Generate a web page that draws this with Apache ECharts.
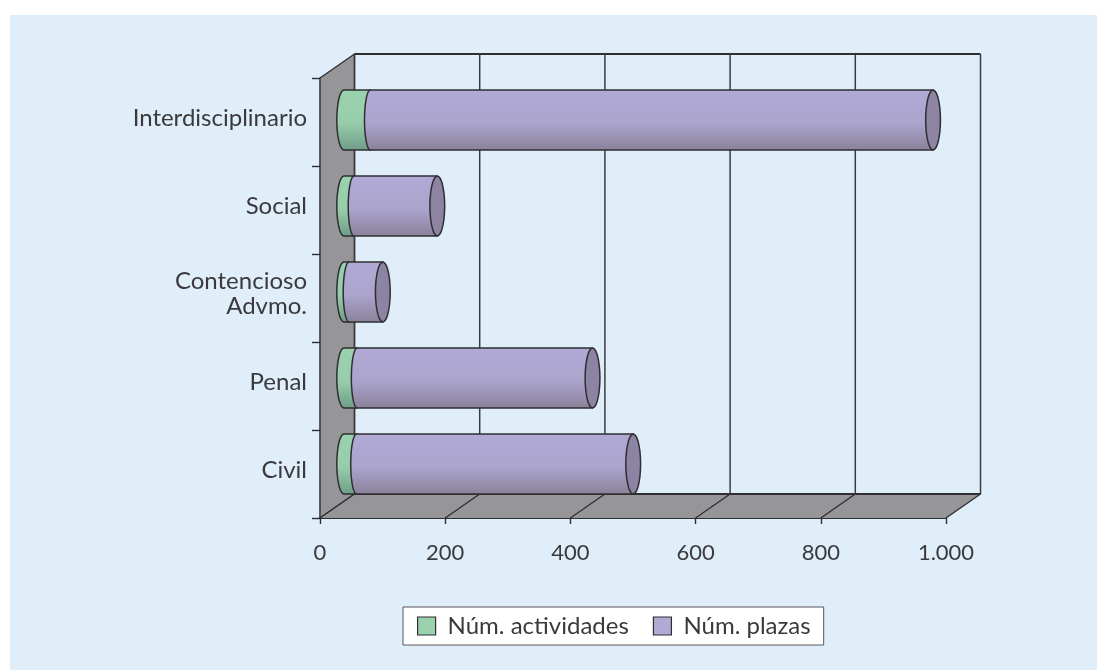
<!DOCTYPE html>
<html><head><meta charset="utf-8">
<style>html,body{margin:0;padding:0;background:#fff}#c{width:1097px;height:670px}</style>
<script src="https://cdn.jsdelivr.net/npm/echarts@6/dist/echarts.min.js"></script>
</head><body><div id="c"></div>
<script>
const categories = ['Civil','Penal','Contencioso\nAdvmo.','Social','Interdisciplinario'];
const actividades = [20, 21, 8, 16, 42];
const plazas = [442, 376, 54, 133, 899];
const valueTicks = [0, 200, 400, 600, 800, 1000];
const seriesNames = ['Núm. actividades', 'Núm. plazas'];

const INK = '#2f2f32', WALL = '#969699', TXT = '#3a3a3c', FONT = 'Lato';
const DX = 34.5, DY = 24, RX_END = 7.4;

function ellipseArc(cx, cy, rx, ry, a0, a1) {
  const pts = [], n = 28;
  for (let i = 0; i <= n; i++) {
    const a = a0 + (a1 - a0) * i / n;
    pts.push([cx + rx * Math.cos(a), cy + ry * Math.sin(a)]);
  }
  return pts;
}
const stroke = { stroke: INK, lineWidth: 1.5 };

function renderWalls(params, api) {
  const r = params.coordSys;
  const L = r.x, R = r.x + r.width, T = r.y, B = r.y + r.height;
  return { type: 'group', children: [
    { type: 'polygon', shape: { points: [[L,T],[L+DX,T-DY],[L+DX,B-DY],[L,B]] }, style: { fill: WALL, stroke: INK, lineWidth: 1.4 } },
    { type: 'polygon', shape: { points: [[L,B],[R,B],[R+DX,B-DY],[L+DX,B-DY]] }, style: { fill: WALL } },
    { type: 'line', shape: { x1: L+DX, y1: T-DY, x2: R+DX, y2: T-DY }, style: { stroke: INK, lineWidth: 2 } },
    { type: 'line', shape: { x1: L+DX, y1: B-DY, x2: R+DX, y2: B-DY }, style: { stroke: INK, lineWidth: 2 } }
  ]};
}
function renderGridLine(params, api) {
  const r = params.coordSys;
  const x = api.coord([api.value(0), 0])[0];
  const T = r.y, B = r.y + r.height;
  return { type: 'group', children: [
    { type: 'line', shape: { x1: x+DX, y1: T-DY, x2: x+DX, y2: B-DY }, style: { stroke: '#3c3c40', lineWidth: 1.5 } },
    { type: 'line', shape: { x1: x, y1: B, x2: x+DX, y2: B-DY }, style: { stroke: INK, lineWidth: 1.4 } }
  ]};
}
function cylinder(withCap, stops, rxStart) {
  return function (params, api) {
    const p0 = api.coord([api.value(0), api.value(2)]);
    const p1 = api.coord([api.value(1), api.value(2)]);
    const ry = 30, cy = p0[1];
    const left = ellipseArc(p0[0], cy, rxStart, ry, 0.5 * Math.PI, 1.5 * Math.PI);
    const pts = left.concat([[p1[0], cy - ry], [p1[0], cy + ry]]);
    const fill = new echarts.graphic.LinearGradient(0, 0, 0, 1,
      stops.map(s => ({ offset: s[0], color: s[1] })));
    const children = [{ type: 'polygon', shape: { points: pts }, style: Object.assign({ fill }, stroke) }];
    if (withCap) {
      children.push({ type: 'polygon',
        shape: { points: ellipseArc(p1[0], cy, RX_END, ry, 0, 2 * Math.PI) },
        style: Object.assign({ fill: '#8d83a3' }, stroke) });
    }
    return { type: 'group', children };
  };
}
const green = [[0,'#9bd2ae'],[0.55,'#97cdaa'],[1,'#6f9c88']];
const purple = [[0,'#b1aad5'],[0.55,'#aba4cd'],[1,'#8a8199']];

const chart = echarts.init(document.getElementById('c'), null, { renderer: 'canvas' });
chart.setOption({
  backgroundColor: '#ffffff',
  animation: false,
  textStyle: { fontFamily: FONT },
  graphic: [{ type: 'rect', z: -10, silent: true,
    shape: { x: 10, y: 15, width: 1087, height: 655 }, style: { fill: '#e0eef9' } }],
  legend: {
    left: 403, top: 607, orient: 'horizontal',
    padding: [7, 13, 7, 14], itemGap: 24, itemWidth: 18, itemHeight: 18,
    backgroundColor: '#ffffff', borderColor: '#55555a', borderWidth: 1,
    icon: 'rect',
    textStyle: { fontFamily: FONT, fontSize: 24, color: TXT, padding: [0,0,0,7] },
    data: [
      { name: seriesNames[0], itemStyle: { color: '#9bd2ae', borderColor: INK, borderWidth: 1.2 } },
      { name: seriesNames[1], itemStyle: { color: '#b1aad5', borderColor: INK, borderWidth: 1.2 } }
    ]
  },
  grid: [
    { left: 320, top: 78, width: 626, height: 440, containLabel: false },
    { left: 344, top: 77, width: 626, height: 430, containLabel: false },
    { left: 320, top: 74, width: 626, height: 440, containLabel: false }
  ],
  xAxis: [
    { gridIndex: 0, type: 'value', min: 0, max: 1000, interval: 200,
      axisLine: { show: true, lineStyle: { color: INK, width: 2 } },
      axisTick: { show: true, length: 6, lineStyle: { color: INK, width: 1.4 } },
      splitLine: { show: false },
      axisLabel: { color: TXT, fontSize: 22, margin: 24, fontFamily: FONT, hideOverlap: false,
        formatter: v => v === 1000 ? '1.000' : String(v) } },
    { gridIndex: 1, type: 'value', min: 0, max: 1000, show: false },
    { gridIndex: 2, type: 'value', min: 0, max: 1000, show: false }
  ],
  yAxis: [
    { gridIndex: 0, type: 'category', data: categories,
      axisLine: { show: true, lineStyle: { color: INK, width: 1.4 } },
      axisTick: { show: true, length: 8, lineStyle: { color: INK, width: 1.4 } },
      axisLabel: { show: false } },
    { gridIndex: 1, type: 'category', data: categories, show: false },
    { gridIndex: 2, type: 'category', data: categories,
      axisLine: { show: false }, axisTick: { show: false },
      axisLabel: { color: TXT, fontSize: 24, margin: 13, lineHeight: 25, fontFamily: FONT, align: 'right', interval: 0 } }
  ],
  series: [
    { type: 'custom', name: '_walls', xAxisIndex: 0, yAxisIndex: 0, z: 1, silent: true, clip: false,
      data: [[0, 0]], renderItem: renderWalls },
    { type: 'custom', name: '_grid', xAxisIndex: 0, yAxisIndex: 0, z: 2, silent: true, clip: false,
      data: valueTicks.map(v => [v, 0]), renderItem: renderGridLine },
    { type: 'custom', name: seriesNames[0], xAxisIndex: 1, yAxisIndex: 1, z: 5, clip: false,
      itemStyle: { color: '#9bd2ae' },
      data: actividades.map((v, i) => [0, v, i]), encode: { x: [0, 1], y: 2 },
      renderItem: cylinder(false, green, 7.2) },
    { type: 'custom', name: seriesNames[1], xAxisIndex: 1, yAxisIndex: 1, z: 6, clip: false,
      itemStyle: { color: '#b1aad5' },
      data: plazas.map((v, i) => [actividades[i], actividades[i] + v, i]), encode: { x: [0, 1], y: 2 },
      renderItem: cylinder(true, purple, 5.8) }
  ]
});
</script></body></html>
